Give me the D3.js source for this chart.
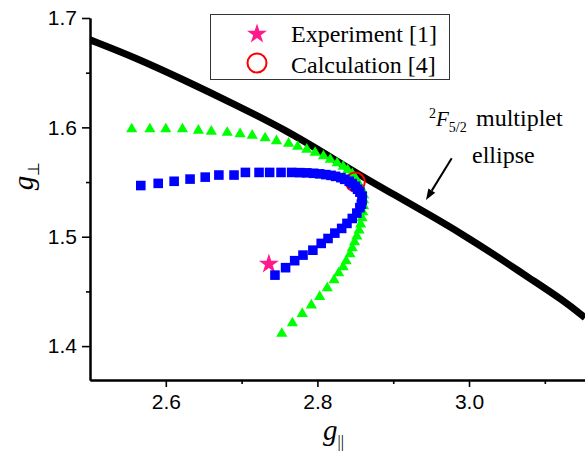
<!DOCTYPE html>
<html>
<head>
<meta charset="utf-8">
<script src="https://cdn.jsdelivr.net/npm/d3@7/dist/d3.min.js"></script>
<style>
  body { margin: 0; background: #fff; }
  svg { display: block; }
</style>
</head>
<body>
<div id="chart"></div>
<script>
// 2F5/2 multiplet ellipse (g_par, g_perp)
var ellipseGpar  = [2.500, 2.559, 2.625, 2.691, 2.757, 2.817, 2.852, 2.905, 2.948, 2.992, 3.037, 3.080, 3.124, 3.153];
var ellipseGperp = [1.680, 1.664, 1.643, 1.621, 1.598, 1.573, 1.558, 1.537, 1.520, 1.502, 1.482, 1.462, 1.442, 1.426];

// blue squares
var blueGpar  = [2.567, 2.590, 2.611, 2.632, 2.652, 2.670, 2.690, 2.705, 2.723, 2.737, 2.752, 2.766,
                 2.777, 2.786, 2.795, 2.803, 2.811, 2.818, 2.824, 2.831, 2.836, 2.842, 2.846, 2.850,
                 2.853, 2.856, 2.859, 2.859, 2.858, 2.856, 2.852, 2.846, 2.839, 2.832, 2.823, 2.814,
                 2.805, 2.794, 2.781, 2.770, 2.758, 2.744];
var blueGperp = [1.5468, 1.5488, 1.5507, 1.5527, 1.5545, 1.5564, 1.5564, 1.5588, 1.5588, 1.5588, 1.5588, 1.5588,
                 1.5586, 1.5584, 1.5580, 1.5575, 1.5568, 1.5561, 1.5552, 1.5540, 1.5525, 1.5507, 1.5486, 1.5461,
                 1.5434, 1.5408, 1.5371, 1.5335, 1.5298, 1.5266, 1.5216, 1.5167, 1.5122, 1.5076, 1.5033, 1.4984,
                 1.4939, 1.4877, 1.4832, 1.4781, 1.4717, 1.4649];

// green triangles
var greenGpar  = [2.555, 2.579, 2.600, 2.622, 2.643, 2.660, 2.681, 2.698, 2.714, 2.731, 2.746, 2.762,
                  2.774, 2.786, 2.797, 2.808, 2.817, 2.826, 2.834, 2.840, 2.846, 2.850, 2.853, 2.856,
                  2.859, 2.861, 2.861, 2.861, 2.860, 2.859, 2.857, 2.855, 2.852, 2.849, 2.846, 2.843,
                  2.838, 2.834, 2.828, 2.822, 2.813, 2.803, 2.792, 2.780, 2.767, 2.753];
var greenGperp = [1.5984, 1.5984, 1.5984, 1.5984, 1.5971, 1.5962, 1.5952, 1.5939, 1.5925, 1.5902, 1.5875, 1.5852,
                  1.5824, 1.5797, 1.5769, 1.5737, 1.5705, 1.5673, 1.5641, 1.5609, 1.5573, 1.5536, 1.5500, 1.5463,
                  1.5426, 1.5381, 1.5335, 1.5280, 1.5225, 1.5170, 1.5115, 1.5060, 1.5005, 1.4951, 1.4896, 1.4841,
                  1.4777, 1.4722, 1.4667, 1.4603, 1.4530, 1.4452, 1.4374, 1.4296, 1.4210, 1.4114];

// single points
var experimentPoint = [2.736, 1.475];
var calculationPoint = [2.850, 1.550];

// ticks
var xMajorTicks = [2.6, 2.8, 3.0];
var xMinorTicks = [2.7, 2.9, 3.1];
var yMajorTicks = [1.4, 1.5, 1.6, 1.7];
var yMinorTicks = [1.45, 1.55, 1.65];

var legendLabels = ["Experiment [1]", "Calculation [4]"];

var svgWidth = 585;
var svgHeight = 455;
var margin = { top: 18, right: 0, bottom: 75, left: 90 };
var chart_width = svgWidth - margin.left - margin.right;
var chart_height = svgHeight - margin.top - margin.bottom;

var svg = d3.select("#chart").append("svg")
    .attr("width", svgWidth)
    .attr("height", svgHeight);

var chart_group = svg.append("g")
    .attr("transform", `translate(${margin.left}, ${margin.top})`);

var xScale = d3.scaleLinear().domain([2.5, 3.153]).range([0, chart_width]);
var yScale = d3.scaleLinear().domain([1.369, 1.7]).range([chart_height, 0]);

// clip
svg.append("defs").append("clipPath").attr("id", "plotclip")
  .append("rect").attr("x", 0).attr("y", -5).attr("width", chart_width).attr("height", chart_height + 5);

var plot = chart_group.append("g").attr("clip-path", "url(#plotclip)");

// ellipse
var ellipseData = ellipseGpar.map((g, i) => [g, ellipseGperp[i]]);
plot.append("path")
    .datum(ellipseData)
    .attr("fill", "none")
    .attr("stroke", "#000")
    .attr("stroke-width", 7)
    .attr("d", d3.line().x(d => xScale(d[0])).y(d => yScale(d[1])).curve(d3.curveBasis));

// green triangles
var greenData = greenGpar.map((g, i) => [g, greenGperp[i]]);
plot.selectAll(".tri").data(greenData).enter().append("path")
    .attr("class", "tri")
    .attr("transform", d => `translate(${xScale(d[0])}, ${yScale(d[1])})`)
    .attr("d", d3.symbol(d3.symbolTriangle, 54))
    .attr("fill", "#00ff00");

// calculation circle
plot.append("circle")
    .attr("cx", xScale(calculationPoint[0]))
    .attr("cy", yScale(calculationPoint[1]))
    .attr("r", 9.5)
    .attr("fill", "none")
    .attr("stroke", "#ff0000")
    .attr("stroke-width", 2);

// experiment star
plot.append("path")
    .attr("transform", `translate(${xScale(experimentPoint[0])}, ${yScale(experimentPoint[1])})`)
    .attr("d", d3.symbol(d3.symbolStar, 124))
    .attr("fill", "#ff1a8c");

// blue squares
var blueData = blueGpar.map((g, i) => [g, blueGperp[i]]);
plot.selectAll(".sq").data(blueData).enter().append("path")
    .attr("class", "sq")
    .attr("transform", d => `translate(${xScale(d[0])}, ${yScale(d[1])})`)
    .attr("d", d3.symbol(d3.symbolSquare, 92))
    .attr("fill", "#0000ff");

// axes
function styleAxis(g) {
  g.select(".domain").attr("stroke", "#000").attr("stroke-width", 2);
  g.selectAll(".tick line").attr("stroke", "#000").attr("stroke-width", 1.6);
  g.selectAll(".tick text").attr("fill", "#000")
    .attr("font-family", "'Liberation Sans', Arial, sans-serif").attr("font-size", "21px");
}

var xAxis = chart_group.append("g")
    .attr("transform", `translate(0, ${chart_height})`)
    .call(d3.axisBottom(xScale).tickValues(xMajorTicks).tickSize(7).tickPadding(7).tickSizeOuter(0).tickFormat(d3.format(".1f")));
styleAxis(xAxis);
var xMinor = chart_group.append("g")
    .attr("transform", `translate(0, ${chart_height})`)
    .call(d3.axisBottom(xScale).tickValues(xMinorTicks).tickSize(4).tickSizeOuter(0).tickFormat(""));
styleAxis(xMinor);

var yAxis = chart_group.append("g")
    .call(d3.axisLeft(yScale).tickValues(yMajorTicks).tickSize(8).tickPadding(5).tickSizeOuter(0).tickFormat(d3.format(".1f")));
styleAxis(yAxis);
var yMinor = chart_group.append("g")
    .call(d3.axisLeft(yScale).tickValues(yMinorTicks).tickSize(4).tickSizeOuter(0).tickFormat(""));
styleAxis(yMinor);

// axis titles
var serif = "'Liberation Serif', 'Times New Roman', serif";
var xTitle = svg.append("text")
    .attr("x", 323).attr("y", 440)
    .attr("font-family", serif).attr("fill", "#000");
xTitle.append("tspan").attr("font-style", "italic").attr("font-size", "29px").text("g");
xTitle.append("tspan").attr("font-size", "16px").attr("dy", 7).text("||");

var yTitle = svg.append("text")
    .attr("transform", "translate(33, 176) rotate(-90)")
    .attr("text-anchor", "middle")
    .attr("font-family", serif).attr("fill", "#000");
yTitle.append("tspan").attr("font-style", "italic").attr("font-size", "29px").text("g");
yTitle.append("tspan").attr("font-size", "16px").attr("dy", 6).text("\u22A5");

// legend
var legend = svg.append("g");
legend.append("rect")
    .attr("x", 210.5).attr("y", 14.5).attr("width", 239).attr("height", 65)
    .attr("fill", "#fff").attr("stroke", "#333").attr("stroke-width", 1);
legend.append("path")
    .attr("transform", "translate(257, 34)")
    .attr("d", d3.symbol(d3.symbolStar, 124))
    .attr("fill", "#ff1a8c");
legend.append("circle")
    .attr("cx", 257).attr("cy", 63).attr("r", 9.5)
    .attr("fill", "none").attr("stroke", "#ff0000").attr("stroke-width", 2);
legend.selectAll(".lt").data(legendLabels).enter().append("text")
    .attr("x", 291).attr("y", (d, i) => 42 + i * 31)
    .attr("font-family", serif).attr("font-size", "24px").attr("fill", "#000")
    .text(d => d);

// annotation
var ann = svg.append("text").attr("font-family", serif).attr("fill", "#000").attr("y", 126);
ann.append("tspan").attr("x", 429).attr("font-size", "14px").attr("dy", -8).text("2");
ann.append("tspan").attr("font-style", "italic").attr("font-size", "21px").attr("dy", 8).text("F");
ann.append("tspan").attr("font-size", "14px").attr("dy", 6).text("5/2");
ann.append("tspan").attr("font-size", "24px").attr("x", 476).attr("dy", -6).text("multiplet");
svg.append("text")
    .attr("x", 472).attr("y", 163)
    .attr("font-family", serif).attr("font-size", "24px").attr("fill", "#000")
    .text("ellipse");

// arrow
var arrowTail = [451.7, 158.3], arrowTip = [426, 200];
var ang = Math.atan2(arrowTip[1] - arrowTail[1], arrowTip[0] - arrowTail[0]);
var headLen = 11, headW = 4;
var bx = arrowTip[0] - headLen * Math.cos(ang), by = arrowTip[1] - headLen * Math.sin(ang);
svg.append("line")
    .attr("x1", arrowTail[0]).attr("y1", arrowTail[1]).attr("x2", bx).attr("y2", by)
    .attr("stroke", "#000").attr("stroke-width", 2);
svg.append("path")
    .attr("d", `M${arrowTip[0]},${arrowTip[1]} L${bx + headW * Math.sin(ang)},${by - headW * Math.cos(ang)} L${bx - headW * Math.sin(ang)},${by + headW * Math.cos(ang)} Z`)
    .attr("fill", "#000");
</script>
</body>
</html>
